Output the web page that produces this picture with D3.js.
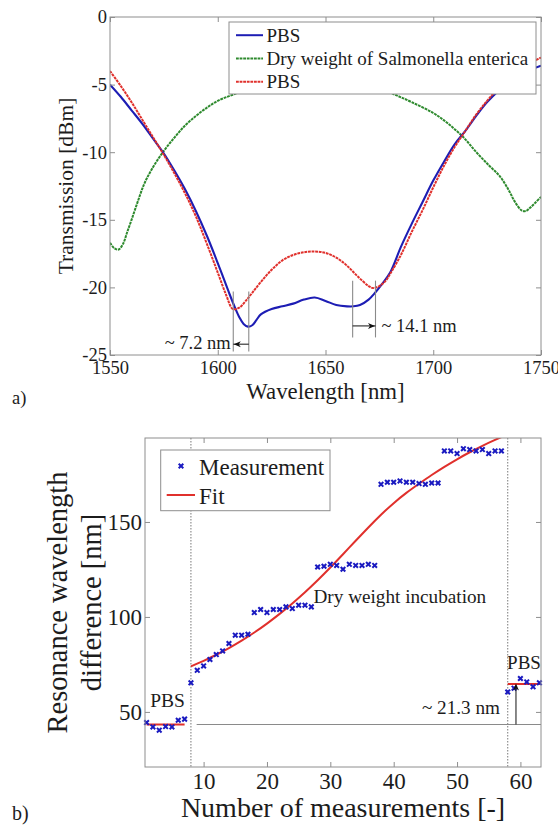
<!DOCTYPE html>
<html>
<head>
<meta charset="utf-8">
<script src="https://cdn.jsdelivr.net/npm/d3@7"></script>
<style>
  html, body { margin: 0; background: #ffffff; }
  svg { display: block; }
  svg text { font-family: "Liberation Serif", "Times New Roman", Times, serif !important; }
</style>
</head>
<body>
<svg id="fig" width="558" height="826"></svg>
<script>
// ---------------- panel a) transmission spectra ----------------
// [wavelength nm, transmission dBm]
const pbsBefore = [
  [1550,-5.0],[1555,-5.9],[1560,-6.9],[1565,-7.9],[1570,-9.0],[1575,-10.1],[1580,-11.4],
  [1585,-12.8],[1590,-14.4],[1595,-16.2],[1600,-18.2],[1605,-20.3],[1608,-21.5],[1610,-22.2],
  [1612,-22.7],[1614,-22.9],[1616,-22.8],[1618,-22.4],[1620,-22.0],[1625,-21.6],[1630,-21.4],
  [1635,-21.2],[1640,-20.9],[1645,-20.75],[1650,-21.0],[1655,-21.3],[1660,-21.4],[1663,-21.4],
  [1666,-21.3],[1670,-20.9],[1673,-20.4],[1676,-19.8],[1680,-18.9],[1685,-17.0],[1690,-15.3],
  [1695,-13.7],[1700,-12.1],[1705,-10.7],[1710,-9.4],[1715,-8.4],[1720,-7.3],[1725,-6.3],
  [1730,-5.5],[1735,-4.9],[1740,-4.3],[1745,-3.9],[1750,-3.6]
];
const salmonellaDry = [
  [1550,-16.7],[1552,-17.1],[1554,-17.2],[1556,-16.8],[1558,-15.9],[1560,-15.0],[1563,-13.6],
  [1566,-12.3],[1570,-11.1],[1575,-9.9],[1580,-8.9],[1585,-8.0],[1590,-7.3],[1595,-6.7],
  [1600,-6.2],[1607,-5.75],[1615,-5.3],[1625,-4.9],[1635,-4.6],[1645,-4.5],[1655,-4.6],
  [1665,-4.9],[1675,-5.3],[1683,-5.8],[1690,-6.3],[1700,-7.1],[1707,-7.9],[1714,-8.9],
  [1720,-10.0],[1726,-11.0],[1731,-11.8],[1735,-12.8],[1738,-13.7],[1741,-14.3],[1743,-14.35],
  [1745,-14.1],[1747,-13.8],[1750,-13.3]
];
const pbsAfter = [
  [1550,-4.0],[1555,-5.1],[1560,-6.3],[1565,-7.6],[1570,-8.9],[1575,-10.2],[1580,-11.6],
  [1585,-13.1],[1590,-14.8],[1595,-16.8],[1600,-18.9],[1604,-20.6],[1607,-21.6],[1610,-21.5],
  [1613,-21.0],[1616,-20.4],[1620,-19.6],[1625,-18.7],[1630,-18.0],[1635,-17.6],[1640,-17.4],
  [1645,-17.35],[1650,-17.45],[1655,-17.8],[1660,-18.4],[1665,-19.2],[1670,-19.9],[1672,-20.05],
  [1675,-19.9],[1678,-19.5],[1680,-19.0],[1685,-17.6],[1690,-15.9],[1695,-14.3],[1700,-12.6],
  [1705,-11.0],[1710,-9.6],[1715,-8.4],[1720,-7.2],[1725,-6.2],[1730,-5.3],[1735,-4.6],
  [1740,-3.9],[1745,-3.4],[1750,-3.0]
];
const wavelengthTicks = [1550, 1600, 1650, 1700, 1750];
const dbmTicks = [0, -5, -10, -15, -20, -25];
const legendLabelsA = ["PBS", "Dry weight of Salmonella enterica", "PBS"];
const dipsLeft = [1607.2, 1614.4];   // resonance dips, first shift
const dipsRight = [1662.6, 1673.2];  // resonance dips, second shift
const shiftLabels = ["~ 7.2 nm", "~ 14.1 nm"];

// ---------------- panel b) resonance wavelength difference ----------------
// one value per measurement, measurement number = index + 1
const resonanceDiff = [
  44.4, 42.1, 40.4, 42.3, 42.1, 45.6, 46.2,                          // PBS
  65.3, 71.9, 74.2, 77.6, 80.2, 82.1, 86.0, 90.4, 90.4, 90.9,        // incubation
  102.3, 103.9, 102.3, 103.9, 103.9, 105.3, 104.4, 106.2, 106.2, 105.3,
  126.3, 126.7, 127.7, 127.1, 125.1, 127.7, 127.1, 127.1, 127.7, 127.1,
  169.8, 170.9, 170.9, 171.6, 170.9, 170.9, 170.2, 169.8, 170.5, 170.5,
  187.4, 187.4, 186.0, 188.6, 188.1, 187.4, 188.1, 186.0, 187.4, 187.4,
  60.5, 62.5, 67.6, 65.8, 63.2, 65.3                                 // PBS
];
const fitNo    = [8, 10, 12, 14, 16, 18, 20, 22, 24, 26, 28, 30, 32, 34, 36, 38, 40, 42, 44, 46, 48, 50, 52, 54, 56, 57.5];
const fitShift = [74.0, 76.9, 80.1, 83.6, 87.5, 91.8, 96.5, 101.6, 107.1, 113.0, 119.3, 126.0, 133.0, 140.1,
                  147.1, 153.8, 159.9, 165.3, 170.1, 174.7, 179.0, 183.0, 186.7, 190.1, 193.2, 195.4];
const pbsLevelStart = 43.4;          // mean PBS level, measurements 1-7
const pbsLevelEnd = 64.7;            // mean PBS level, measurements 58-63
const phaseBounds = [8, 58];         // start of incubation, return to PBS
const measurementTicks = [10, 20, 30, 40, 50, 60];
const diffTicks = [50, 100, 150];
const legendLabelsB = ["Measurement", "Fit"];

// ---------------- styling ----------------
const SERIF = '"Liberation Serif", "Times New Roman", Times, serif';
const INK = "#1c1c1c";
const FRAME = "#8e8e8e";
const BLUE = "#1d1db4";
const GREEN = "#2e8a2e";
const RED = "#e0302c";
const MARK = "#1a1ac0";
const DOTS = "2.8,0.8";
const plain = d => String(d);        // integer labels with a plain hyphen minus

const svg = d3.select("#fig");
const defs = svg.append("defs");

function txt(g, str, x, y, size, anchor) {
  return g.append("text").attr("x", x).attr("y", y).text(str)
    .style("font-family", SERIF).attr("font-size", size)
    .attr("fill", INK).attr("text-anchor", anchor || "start");
}
function arrowHead(g, x, y, dir) {
  // filled arrow tip at (x,y) pointing along dir: "left" | "right" | "up"
  const L = 7, W = 3;
  let p;
  if (dir === "left") p = [[x, y], [x + L, y - W], [x + L - 2, y], [x + L, y + W]];
  else if (dir === "right") p = [[x, y], [x - L, y - W], [x - L + 2, y], [x - L, y + W]];
  else p = [[x, y], [x - W, y + L], [x, y + L - 2], [x + W, y + L]];
  g.append("path").attr("d", "M" + p.map(d => d.join(",")).join("L") + "Z").attr("fill", "#111");
}
function frame(g, x, y, w, h) {
  g.append("rect").attr("x", x).attr("y", y).attr("width", w).attr("height", h)
    .attr("fill", "none").attr("stroke", FRAME).attr("stroke-width", 1);
}
function styleAxis(sel, size) {
  sel.attr("font-size", size);
  sel.select(".domain").remove();
  sel.selectAll("line").attr("stroke", FRAME);
  sel.selectAll("text").attr("fill", INK).style("font-family", SERIF);
}

// ================= panel a =================
const A = { l: 110, r: 541, t: 17, b: 355 };
const xA = d3.scaleLinear().domain([1550, 1750]).range([A.l, A.r]);
const yA = d3.scaleLinear().domain([-25, 0]).range([A.b, A.t]);
const gA = svg.append("g");

defs.append("clipPath").attr("id", "clipA").append("rect")
  .attr("x", A.l).attr("y", A.t).attr("width", A.r - A.l).attr("height", A.b - A.t);

const lineA = d3.line().x(d => xA(d[0])).y(d => yA(d[1])).curve(d3.curveCatmullRom.alpha(0.5));
const curvesA = gA.append("g").attr("clip-path", "url(#clipA)");
curvesA.append("path").datum(salmonellaDry).attr("d", lineA).attr("fill", "none")
  .attr("stroke", GREEN).attr("stroke-width", 2).attr("stroke-dasharray", DOTS);
curvesA.append("path").datum(pbsBefore).attr("d", lineA).attr("fill", "none")
  .attr("stroke", BLUE).attr("stroke-width", 2.1);
curvesA.append("path").datum(pbsAfter).attr("d", lineA).attr("fill", "none")
  .attr("stroke", RED).attr("stroke-width", 2).attr("stroke-dasharray", DOTS);

// axes (inward ticks on all four sides)
styleAxis(gA.append("g").attr("transform", `translate(0,${A.b})`)
  .call(d3.axisBottom(xA).tickValues(wavelengthTicks).tickSize(-5).tickPadding(6).tickFormat(plain)), 18.5);
styleAxis(gA.append("g").attr("transform", `translate(0,${A.t})`)
  .call(d3.axisTop(xA).tickValues(wavelengthTicks).tickSize(-5).tickFormat("")), 18.5);
styleAxis(gA.append("g").attr("transform", `translate(${A.l},0)`)
  .call(d3.axisLeft(yA).tickValues(dbmTicks).tickSize(-5).tickPadding(3).tickFormat(plain)), 18.5);
styleAxis(gA.append("g").attr("transform", `translate(${A.r},0)`)
  .call(d3.axisRight(yA).tickValues(dbmTicks).tickSize(-5).tickFormat("")), 18.5);
frame(gA, A.l, A.t, A.r - A.l, A.b - A.t);

// shift annotations
const annA = gA.append("g");
[[dipsLeft, -20.3, -24.75, -24.2, "left"], [dipsRight, -19.5, -23.7, -22.85, "right"]].forEach(([dips, top, bot, ay, dir]) => {
  dips.forEach(w => annA.append("line").attr("x1", xA(w)).attr("x2", xA(w))
    .attr("y1", yA(top)).attr("y2", yA(bot)).attr("stroke", "#8a8a8a").attr("stroke-width", 1.1));
  annA.append("line").attr("x1", xA(dips[0])).attr("x2", xA(dips[1]))
    .attr("y1", yA(ay)).attr("y2", yA(ay)).attr("stroke", "#111").attr("stroke-width", 1);
  if (dir === "left") arrowHead(annA, xA(dips[0]) + 0.5, yA(ay), "left");
  else arrowHead(annA, xA(dips[1]) - 0.5, yA(ay), "right");
});
txt(annA, shiftLabels[0], xA(dipsLeft[0]) - 2.5, 349, 18.5, "end");
txt(annA, shiftLabels[1], xA(dipsRight[1]) + 6, 331.5, 18.5, "start");

// legend
const legA = gA.append("g");
legA.append("rect").attr("x", 229).attr("y", 22).attr("width", 307).attr("height", 72)
  .attr("fill", "#fff").attr("stroke", FRAME).attr("stroke-width", 1);
const legStyles = [[BLUE, null], [GREEN, DOTS], [RED, DOTS]];
legendLabelsA.forEach((lab, i) => {
  const base = 41.7 + i * 23.3;
  legA.append("line").attr("x1", 236).attr("x2", 263).attr("y1", base - 6.5).attr("y2", base - 6.5)
    .attr("stroke", legStyles[i][0]).attr("stroke-width", 2)
    .attr("stroke-dasharray", legStyles[i][1]);
  txt(legA, lab, 266.5, base, 19);
});

// axis titles
txt(gA, "Wavelength [nm]", (A.l + A.r) / 2, 399, 22.8, "middle");
gA.append("text").attr("transform", `translate(73,${(A.t + A.b) / 2}) rotate(-90)`)
  .attr("text-anchor", "middle").style("font-family", SERIF).attr("font-size", 21.5)
  .attr("fill", INK).text("Transmission [dBm]");
txt(svg, "a)", 12, 404, 18.5);

// ================= panel b =================
const B = { l: 145, r: 541, t: 438, b: 767 };
const xB = d3.scaleLinear().domain([0.75, 63.25]).range([B.l, B.r]);
const yB = d3.scaleLinear().domain([21, 194.2]).range([B.b, B.t]);
const gB = svg.append("g");

defs.append("clipPath").attr("id", "clipB").append("rect")
  .attr("x", B.l).attr("y", B.t).attr("width", B.r - B.l).attr("height", B.b - B.t);

// phase boundaries and reference level
phaseBounds.forEach(n => gB.append("line").attr("x1", xB(n)).attr("x2", xB(n))
  .attr("y1", B.t).attr("y2", B.b).attr("stroke", "#555").attr("stroke-width", 0.8)
  .attr("stroke-dasharray", "1.5,1.5"));
gB.append("line").attr("x1", xB(phaseBounds[0] + 0.9)).attr("x2", B.r)
  .attr("y1", yB(pbsLevelStart)).attr("y2", yB(pbsLevelStart))
  .attr("stroke", "#8a8a8a").attr("stroke-width", 1.1);

// fit curves
const plotB = gB.append("g").attr("clip-path", "url(#clipB)");
const fitLine = d3.line().x(d => xB(d[0])).y(d => yB(d[1])).curve(d3.curveNatural);
plotB.append("path").datum(fitNo.map((n, i) => [n, fitShift[i]])).attr("d", fitLine)
  .attr("fill", "none").attr("stroke", RED).attr("stroke-width", 2);
plotB.append("path").datum([[1, pbsLevelStart], [7, pbsLevelStart]]).attr("d", fitLine)
  .attr("fill", "none").attr("stroke", RED).attr("stroke-width", 2);
plotB.append("path").datum([[58, pbsLevelEnd], [63.25, pbsLevelEnd]]).attr("d", fitLine)
  .attr("fill", "none").attr("stroke", RED).attr("stroke-width", 2);

// measurement markers (x)
function cross(g, cx, cy) {
  const s = 2.3;
  g.append("path").attr("d", `M${cx - s},${cy - s}L${cx + s},${cy + s}M${cx - s},${cy + s}L${cx + s},${cy - s}`)
    .attr("stroke", MARK).attr("stroke-width", 2).attr("fill", "none");
}
const marks = gB.append("g");
resonanceDiff.forEach((v, i) => cross(marks, xB(i + 1), yB(v)));

// return-to-PBS shift arrow
const arrowX = xB(59.3);
gB.append("line").attr("x1", arrowX).attr("x2", arrowX)
  .attr("y1", yB(pbsLevelStart)).attr("y2", yB(pbsLevelEnd) + 3)
  .attr("stroke", "#111").attr("stroke-width", 1);
arrowHead(gB, arrowX, yB(pbsLevelEnd) - 0.5, "up");

// axes
styleAxis(gB.append("g").attr("transform", `translate(0,${B.b})`)
  .call(d3.axisBottom(xB).tickValues(measurementTicks).tickSize(-5).tickPadding(6).tickFormat(plain)), 23);
styleAxis(gB.append("g").attr("transform", `translate(0,${B.t})`)
  .call(d3.axisTop(xB).tickValues(measurementTicks).tickSize(-5).tickFormat("")), 23);
styleAxis(gB.append("g").attr("transform", `translate(${B.l},0)`)
  .call(d3.axisLeft(yB).tickValues(diffTicks).tickSize(-5).tickPadding(3).tickFormat(plain)), 23);
styleAxis(gB.append("g").attr("transform", `translate(${B.r},0)`)
  .call(d3.axisRight(yB).tickValues(diffTicks).tickSize(-5).tickFormat("")), 23);
frame(gB, B.l, B.t, B.r - B.l, B.b - B.t);

// in-plot labels
txt(gB, "PBS", 167.5, 707, 19.5, "middle");
txt(gB, "PBS", 524, 669, 19, "middle");
txt(gB, "~ 21.3 nm", 500, 714, 19.2, "end");
txt(gB, "Dry weight incubation", 313.5, 602.5, 19.2);

// legend
const legB = gB.append("g");
legB.append("rect").attr("x", 160.7).attr("y", 450).attr("width", 169.3).attr("height", 60.7)
  .attr("fill", "#fff").attr("stroke", FRAME).attr("stroke-width", 1);
cross(legB, 181, 466);
legB.append("line").attr("x1", 166.7).attr("x2", 195).attr("y1", 495).attr("y2", 495)
  .attr("stroke", RED).attr("stroke-width", 2);
txt(legB, legendLabelsB[0], 199, 475, 23);
txt(legB, legendLabelsB[1], 199, 503.5, 23);

// axis titles
txt(gB, "Number of measurements [-]", (B.l + B.r) / 2, 817, 28, "middle");
const yTitle = gB.append("text").attr("transform", `translate(67,${(B.t + B.b) / 2}) rotate(-90)`)
  .attr("text-anchor", "middle").style("font-family", SERIF).attr("font-size", 28.5).attr("fill", INK);
yTitle.append("tspan").attr("x", 0).attr("dy", 0).text("Resonance wavelength");
yTitle.append("tspan").attr("x", 0).attr("dy", 34).text("difference [nm]");
txt(svg, "b)", 12, 820, 20);
</script>
</body>
</html>
